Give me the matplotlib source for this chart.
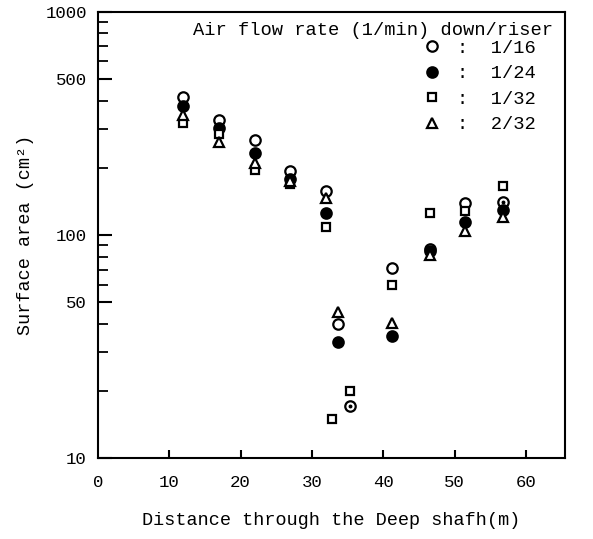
import matplotlib
matplotlib.use("Agg")
import matplotlib.pyplot as plt
from matplotlib.ticker import FixedLocator, LogLocator, NullFormatter, NullLocator

plt.rcParams['font.family'] = ['Liberation Mono', 'DejaVu Sans Mono']

# data (distance m, surface area cm^2)
x_1_16 = [12, 17, 22, 27, 32, 33.7, 35.4, 41.2, 46.5, 51.4, 56.8]
y_1_16 = [417, 327, 267, 193, 157, 40, 17.2, 71, 87, 139, 141]

x_1_24 = [12, 17, 22, 27, 32, 33.7, 41.2, 46.5, 51.4, 56.8]
y_1_24 = [380, 301, 234, 179, 125, 33, 35.4, 85, 114, 130]

x_1_32 = [12, 17, 22, 27, 32, 32.8, 35.4, 41.2, 46.5, 51.4, 56.8]
y_1_32 = [317, 283, 195, 169, 109, 15, 19.9, 60, 125, 128, 166]

x_2_32 = [12, 17, 22, 27, 32, 33.7, 41.2, 46.5, 51.4, 56.8]
y_2_32 = [344, 261, 211, 175, 147, 45, 40.5, 81, 104, 121]

# circles drawn with a dot in the centre
x_dot = [35.4, 46.5, 56.8]
y_dot = [17.2, 87, 141]

series_labels = [':  1/16', ':  1/24', ':  1/32', ':  2/32']
legend_title = 'Air flow rate (1/min) down/riser'

xticks = [0, 10, 20, 30, 40, 50, 60]
yticks = [10, 50, 100, 500, 1000]

fig = plt.figure(figsize=(5.93, 5.39), dpi=100)
ax = fig.add_axes([0.165, 0.150, 0.788, 0.828])

ax.set_yscale('log')
ax.set_xlim(0, 65.5)
ax.set_ylim(10, 1000)

kw = dict(linestyle='none', color='black', markeredgewidth=1.6)
h1, = ax.plot(x_1_16, y_1_16, marker='o', markersize=7.5, markerfacecolor='white', **kw)
h2, = ax.plot(x_1_24, y_1_24, marker='o', markersize=7.5, markerfacecolor='black', **kw)
h3, = ax.plot(x_1_32, y_1_32, marker='s', markersize=6, markerfacecolor='white', **kw)
h4, = ax.plot(x_2_32, y_2_32, marker='^', markersize=7, markerfacecolor='white', **kw)
ax.plot(x_dot, y_dot, linestyle='none', marker='o', markersize=1.8, color='black')

# axes styling
for s in ['left', 'bottom', 'right', 'top']:
    ax.spines[s].set_linewidth(1.5)

ax.xaxis.set_major_locator(FixedLocator(xticks))
ax.set_xticklabels([str(t) for t in xticks])
ax.yaxis.set_major_locator(FixedLocator(yticks))
ax.set_yticklabels([str(t) for t in yticks])
ax.yaxis.set_minor_locator(LogLocator(base=10, subs=range(2, 10)))
ax.yaxis.set_minor_formatter(NullFormatter())
ax.xaxis.set_minor_locator(NullLocator())

ax.tick_params(axis='x', which='major', direction='in', length=6, width=1.5,
               labelsize=12.5, pad=12, top=False)
ax.tick_params(axis='y', which='major', direction='in', length=10, width=1.5,
               labelsize=12.5, pad=8, right=False)
ax.tick_params(axis='y', which='minor', direction='in', length=7, width=1.3, right=False)
# hide the tick mark at x=0 (keep its label)
ax.xaxis.get_major_ticks()[0].tick1line.set_visible(False)

ax.set_xlabel('Distance through the Deep shafh(m)', fontsize=13.3, labelpad=16)
ax.set_ylabel('Surface area (cm²)', fontsize=13.3, labelpad=8)

ax.text(0.975, 0.978, legend_title, transform=ax.transAxes, ha='right', va='top',
        fontsize=13.5)
leg = ax.legend([h1, h2, h3, h4], series_labels,
                loc='upper left', bbox_to_anchor=(0.68, 0.955),
                frameon=False, fontsize=13.5,
                handletextpad=0.8, labelspacing=0.45, borderaxespad=0.0,
                handlelength=1.0)

fig.savefig('out.png', dpi=100)
